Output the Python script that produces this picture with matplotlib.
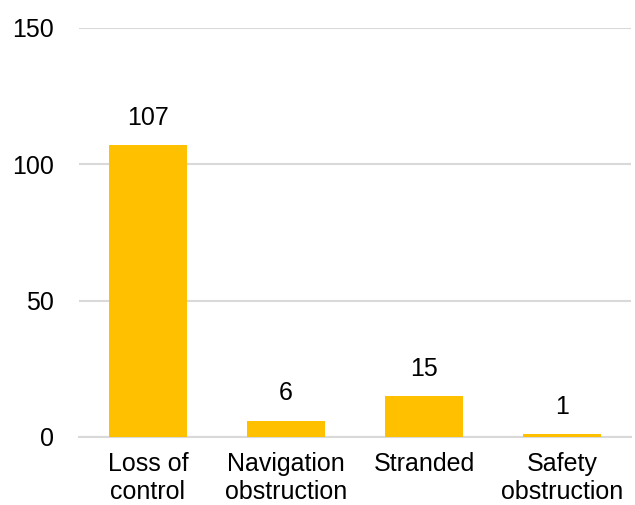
import matplotlib
matplotlib.use("Agg")
import matplotlib.pyplot as plt

categories = ["Loss of\ncontrol", "Navigation\nobstruction", "Stranded", "Safety\nobstruction"]
counts = [107, 6, 15, 1]
y_ticks = [0, 50, 100, 150]

plt.rcParams["font.family"] = ["Liberation Sans", "DejaVu Sans"]

fig = plt.figure(figsize=(6.35, 5.05), dpi=100)
ax = fig.add_axes([0.1244, 0.1347, 0.8693, 0.8099])

x = range(len(categories))
bars = ax.bar(x, counts, width=0.56, color="#FFC000", zorder=3)

for rect, v in zip(bars, counts):
    ax.annotate(str(v), (rect.get_x() + rect.get_width() / 2, rect.get_height()),
                xytext=(0, 11), textcoords="offset points",
                ha="center", va="bottom", fontsize=18, color="#000000")

ax.set_xlim(-0.5, len(categories) - 0.5)
ax.set_ylim(0, 150)
ax.set_yticks(y_ticks)
ax.set_yticklabels([str(t) for t in y_ticks], fontsize=18)
ax.set_xticks(list(x))
ax.set_xticklabels(categories, fontsize=18, linespacing=1.22)

ax.grid(axis="y", color="#D9D9D9", linewidth=1.5, zorder=0)
for side in ["top", "right", "left"]:
    ax.spines[side].set_visible(False)
ax.spines["bottom"].set_color("#D9D9D9")
ax.spines["bottom"].set_linewidth(1.5)
ax.tick_params(axis="both", length=0)
ax.tick_params(axis="y", pad=18)
ax.tick_params(axis="x", pad=11)

fig.savefig("out.png", dpi=100)
